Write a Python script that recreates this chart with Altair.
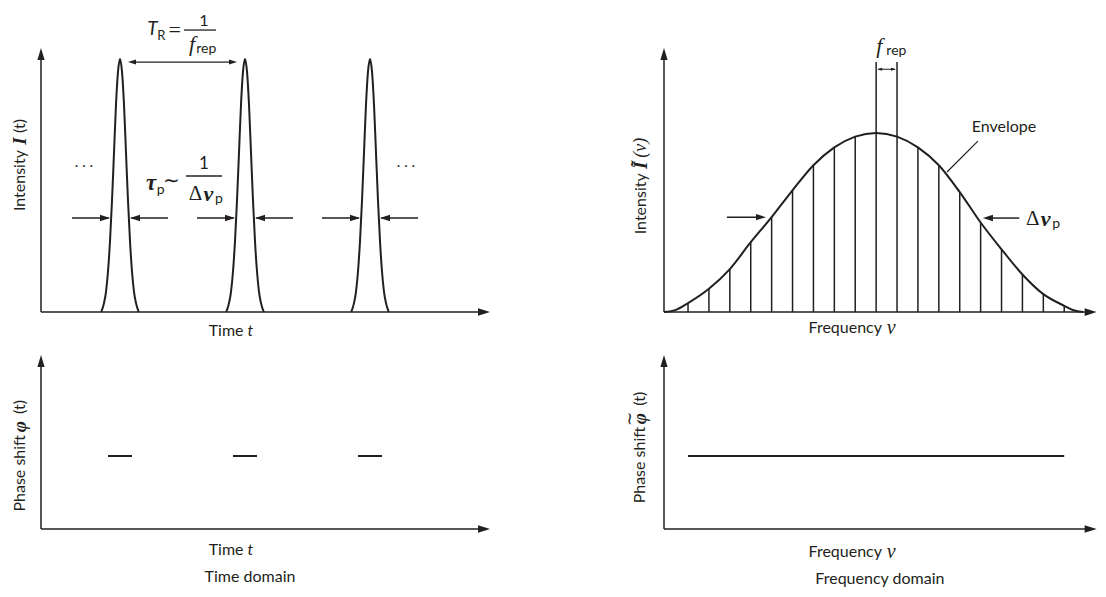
import altair as alt
import pandas as pd

INK = "#231f20"
SANS = "Lato"
SERIF = "Liberation Serif"

# ---------------- values ----------------
# Time domain: t in units of the repetition period T_R, intensity normalised to the peak
pulse_centers = [0.632, 1.632, 2.632]
pulse_dt = [-0.150, -0.128, -0.112, -0.096, -0.080, -0.064, -0.048, -0.032, -0.016, 0.0,
            0.016, 0.032, 0.048, 0.064, 0.080, 0.096, 0.112, 0.128, 0.150]
pulse_I = [0.0, 0.035, 0.08, 0.16, 0.28, 0.44, 0.63, 0.82, 0.95, 1.0,
           0.95, 0.82, 0.63, 0.44, 0.28, 0.16, 0.08, 0.035, 0.0]
phase_t_values = [1.0, 1.0, 1.0]          # constant phase under each pulse
phase_t_halfwidth = 0.096

# Frequency domain: nu in units of f_rep, comb modes and their envelope
comb_nu = [1.15, 2.15, 3.15, 4.15, 5.15, 6.15, 7.15, 8.15, 9.15, 10.15,
           11.15, 12.15, 13.15, 14.15, 15.15, 16.15, 17.15, 18.15, 19.15]
comb_I = [0.05, 0.13, 0.24, 0.39, 0.53, 0.68, 0.82, 0.92, 0.98, 1.0,
          0.98, 0.92, 0.82, 0.67, 0.50, 0.35, 0.21, 0.10, 0.035]
env_nu = [0.0, 0.6, 1.15, 2.15, 3.15, 4.15, 5.15, 6.15, 7.15, 8.15, 9.15, 10.15,
          11.15, 12.15, 13.15, 14.15, 15.15, 16.15, 17.15, 18.15, 19.15, 19.6, 20.05]
env_I = [0.0, 0.014, 0.05, 0.13, 0.24, 0.39, 0.53, 0.68, 0.82, 0.92, 0.98, 1.0,
         0.98, 0.92, 0.82, 0.67, 0.50, 0.35, 0.21, 0.10, 0.035, 0.01, 0.0]
phase_nu_values = [1.0, 1.0, 1.0, 1.0, 1.0, 1.0, 1.0, 1.0, 1.0, 1.0,
                   1.0, 1.0, 1.0, 1.0, 1.0, 1.0, 1.0, 1.0, 1.0]

# ---------------- scales (one coordinate system per panel) ----------------
W, H_TOP, H_BOT = 545, 332, 249
XT = alt.Scale(domain=[-0.264, 4.096], nice=False, zero=False)
YI = alt.Scale(domain=[-0.1107, 1.2016], nice=False, zero=False)
XF = alt.Scale(domain=[-5.311, 20.766], nice=False, zero=False)
YF = alt.Scale(domain=[-0.156, 1.698], nice=False, zero=False)
YP = alt.Scale(domain=[-0.822, 2.589], nice=False, zero=False)

ARR_R = "M0,0L-1,-0.32L-1,0.32Z"
ARR_L = "M0,0L1,-0.32L1,0.32Z"
ARR_U = "M0,0L-0.3,1L0.3,1Z"
FS = 16  # body text size


def xy(xs, ys):
    return dict(x=alt.X("x:Q", scale=xs, axis=None), y=alt.Y("y:Q", scale=ys, axis=None))


def rules(rows, xs, ys, sw=1.5):
    df = pd.DataFrame(rows, columns=["x", "y", "x2", "y2"])
    return alt.Chart(df).mark_rule(color=INK, strokeWidth=sw).encode(
        **xy(xs, ys), x2="x2:Q", y2="y2:Q")


def heads(rows, xs, ys, path, length):
    df = pd.DataFrame(rows, columns=["x", "y"])
    return alt.Chart(df).mark_point(shape=path, size=(2 * length) ** 2, filled=True,
                                    opacity=1, color=INK, strokeWidth=0).encode(**xy(xs, ys))


def texts(rows, xs, ys, font=SANS, size=FS, style="normal", weight="normal",
          angle=0, align="center", baseline="middle"):
    df = pd.DataFrame(rows, columns=["x", "y", "text"])
    kw = dict(font=font, fontSize=size, fontStyle=style, fontWeight=weight,
              align=align, baseline=baseline, color=INK)
    if angle:
        kw["angle"] = angle
    return alt.Chart(df).mark_text(**kw).encode(**xy(xs, ys), text="text:N")


# ---------------- panel A: intensity vs time ----------------
pulse_rows = []
for k, c in enumerate(pulse_centers):
    for dt, v in zip(pulse_dt, pulse_I):
        pulse_rows.append({"pulse": k, "x": c + dt, "y": v})
pulses = alt.Chart(pd.DataFrame(pulse_rows)).mark_line(
    color=INK, strokeWidth=2, interpolate="monotone").encode(**xy(XT, YI), detail="pulse:N")

fwhm_y = 0.3715
fwhm_lines, fwhm_r, fwhm_l = [], [], []
for c in pulse_centers:
    fwhm_lines += [(c - 0.384, fwhm_y, c - 0.09, fwhm_y), (c + 0.09, fwhm_y, c + 0.384, fwhm_y)]
    fwhm_r.append((c - 0.08, fwhm_y))
    fwhm_l.append((c + 0.08, fwhm_y))

A = alt.layer(
    rules([(0, 0, 0, 1.01), (0, 0, 3.54, 0)], XT, YI, 1.5),
    heads([(0, 1.0435)], XT, YI, ARR_U, 12),
    heads([(3.592, 0)], XT, YI, ARR_R, 12),
    pulses,
    rules(fwhm_lines, XT, YI, 1.5),
    heads(fwhm_r, XT, YI, ARR_R, 10),
    heads(fwhm_l, XT, YI, ARR_L, 10),
    # T_R double arrow between pulse peaks
    rules([(0.72, 0.988, 1.54, 0.988)], XT, YI, 1.3),
    heads([(0.696, 0.988)], XT, YI, ARR_L, 8),
    heads([(1.568, 0.988)], XT, YI, ARR_R, 8),
    # T_R = 1 / f_rep
    texts([(0.892, 1.118, "T")], XT, YI, size=19, style="italic"),
    texts([(0.962, 1.092, "R")], XT, YI, size=13),
    texts([(1.07, 1.114, "=")], XT, YI, font=SERIF, size=22),
    texts([(1.304, 1.150, "1")], XT, YI, size=16),
    rules([(1.144, 1.1145, 1.40, 1.1145)], XT, YI, 1.3),
    texts([(1.208, 1.058, "f")], XT, YI, font=SERIF, size=22, style="italic"),
    texts([(1.322, 1.039, "rep")], XT, YI, size=14),
    # tau_p ~ 1 / Delta nu_p
    texts([(0.88, 0.508, "τ")], XT, YI, font=SERIF, size=23, style="italic", weight="bold"),
    texts([(0.958, 0.484, "p")], XT, YI, size=14),
    texts([(1.04, 0.516, "∼")], XT, YI, font=SERIF, size=20),
    texts([(1.304, 0.585, "1")], XT, YI, size=17),
    rules([(1.16, 0.5375, 1.448, 0.5375)], XT, YI, 1.3),
    texts([(1.236, 0.468, "Δ")], XT, YI, font=SERIF, size=21),
    texts([(1.338, 0.468, "ν")], XT, YI, font=SERIF, size=22, style="italic", weight="bold"),
    texts([(1.424, 0.446, "p")], XT, YI, size=14),
    # ellipses
    texts([(0.344, 0.592, ". . ."), (2.92, 0.592, ". . .")], XT, YI, size=15),
    # axis labels
    texts([(1.62, -0.075, "Time")], XT, YI, align="right"),
    texts([(1.652, -0.075, "t")], XT, YI, style="italic", align="left"),
    texts([(-0.168, 0.640, "Intensity")], XT, YI, angle=270, align="right"),
    texts([(-0.168, 0.676, "I")], XT, YI, font=SERIF, size=19, style="italic",
          weight="bold", angle=270),
    texts([(-0.168, 0.708, "(t)")], XT, YI, angle=270, align="left"),
).properties(width=W, height=H_TOP)

# ---------------- panel B: intensity vs frequency ----------------
comb = alt.Chart(pd.DataFrame({"x": comb_nu, "y": [0.0] * len(comb_nu), "y2": comb_I})).mark_rule(
    color=INK, strokeWidth=1.5).encode(**xy(XF, YF), y2="y2:Q")
envelope = alt.Chart(pd.DataFrame({"x": env_nu, "y": env_I})).mark_line(
    color=INK, strokeWidth=2, interpolate="monotone").encode(**xy(XF, YF))

B = alt.layer(
    rules([(0, 0, 0, 1.44), (0, 0, 20.4, 0)], XF, YF, 1.5),
    heads([(0, 1.475)], XF, YF, ARR_U, 12),
    heads([(20.7, 0)], XF, YF, ARR_R, 12),
    comb,
    envelope,
    # f_rep marker on two neighbouring modes
    rules([(comb_nu[9], comb_I[9], comb_nu[9], 1.397),
           (comb_nu[10], comb_I[10], comb_nu[10], 1.397)], XF, YF, 1.5),
    rules([(comb_nu[9] + 0.1, 1.356, comb_nu[10] - 0.1, 1.356)], XF, YF, 1.0),
    heads([(comb_nu[9] + 0.05, 1.356)], XF, YF, ARR_L, 5),
    heads([(comb_nu[10] - 0.05, 1.356)], XF, YF, ARR_R, 5),
    texts([(10.30, 1.488, "f")], XF, YF, font=SERIF, size=22, style="italic"),
    texts([(11.12, 1.458, "rep")], XF, YF, size=14),
    # Envelope label with leader
    texts([(16.27, 1.034, "Envelope")], XF, YF),
    rules([(15.02, 0.955, 13.54, 0.782)], XF, YF, 1.2),
    # width arrows
    rules([(3.01, 0.53, 4.6, 0.53)], XF, YF, 1.5),
    heads([(4.88, 0.53)], XF, YF, ARR_R, 10),
    rules([(15.55, 0.525, 17.0, 0.525)], XF, YF, 1.5),
    heads([(15.26, 0.525)], XF, YF, ARR_L, 10),
    texts([(17.64, 0.522, "Δ")], XF, YF, font=SERIF, size=21),
    texts([(18.26, 0.522, "ν")], XF, YF, font=SERIF, size=22, style="italic", weight="bold"),
    texts([(18.76, 0.492, "p")], XF, YF, size=14),
    # axis labels
    texts([(10.43, -0.089, "Frequency")], XF, YF, align="right"),
    texts([(10.66, -0.089, "ν")], XF, YF, font=SERIF, size=20, style="italic", align="left"),
    texts([(-1.10, 0.775, "Intensity")], XF, YF, angle=270, align="right"),
    texts([(-1.10, 0.82, "Ĩ")], XF, YF, font=SERIF, size=19, style="italic",
          weight="bold", angle=270),
    texts([(-1.10, 0.862, "(ν)")], XF, YF, font=SERIF, size=18, style="italic",
          angle=270, align="left"),
).properties(width=W, height=H_TOP)

# ---------------- panel C: phase vs time ----------------
phase_t_rows = [(c - phase_t_halfwidth, p, c + phase_t_halfwidth, p)
                for c, p in zip(pulse_centers, phase_t_values)]

C = alt.layer(
    rules([(0, 0, 0, 2.33), (0, 0, 3.54, 0)], XT, YP, 1.5),
    heads([(0, 2.384)], XT, YP, ARR_U, 12),
    heads([(3.592, 0)], XT, YP, ARR_R, 12),
    rules(phase_t_rows, XT, YP, 2),
    texts([(1.62, -0.288, "Time")], XT, YP, align="right"),
    texts([(1.652, -0.288, "t")], XT, YP, style="italic", align="left"),
    texts([(1.672, -0.658, "Time domain")], XT, YP),
    texts([(-0.168, 1.288, "Phase shift")], XT, YP, angle=270, align="right"),
    texts([(-0.168, 1.40, "φ")], XT, YP, font=SERIF, size=19, style="italic",
          weight="bold", angle=270),
    texts([(-0.168, 1.575, "(t)")], XT, YP, angle=270, align="left"),
).properties(width=W, height=H_BOT)

# ---------------- panel D: phase vs frequency ----------------
phase_nu = alt.Chart(pd.DataFrame({"x": comb_nu, "y": phase_nu_values})).mark_line(
    color=INK, strokeWidth=2).encode(**xy(XF, YP))

D = alt.layer(
    rules([(0, 0, 0, 2.33), (0, 0, 20.4, 0)], XF, YP, 1.5),
    heads([(0, 2.384)], XF, YP, ARR_U, 12),
    heads([(20.7, 0)], XF, YP, ARR_R, 12),
    phase_nu,
    texts([(10.43, -0.315, "Frequency")], XF, YP, align="right"),
    texts([(10.66, -0.315, "ν")], XF, YP, font=SERIF, size=20, style="italic", align="left"),
    texts([(10.33, -0.685, "Frequency domain")], XF, YP),
    texts([(-1.15, 1.40, "Phase shift")], XF, YP, angle=270, align="right"),
    texts([(-1.15, 1.51, "φ")], XF, YP, font=SERIF, size=19, style="italic",
          weight="bold", angle=270),
    texts([(-1.64, 1.51, "∼")], XF, YP, font=SERIF, size=17, angle=270),
    texts([(-1.15, 1.69, "(t)")], XF, YP, angle=270, align="left"),
).properties(width=W, height=H_BOT)

chart = (
    alt.concat(A, B, C, D, columns=2, spacing=0, bounds="flush")
    .properties(padding=0, background="white")
    .configure_view(stroke=None)
)

chart.save("out.html", embed_options={"renderer": "svg", "actions": False})
